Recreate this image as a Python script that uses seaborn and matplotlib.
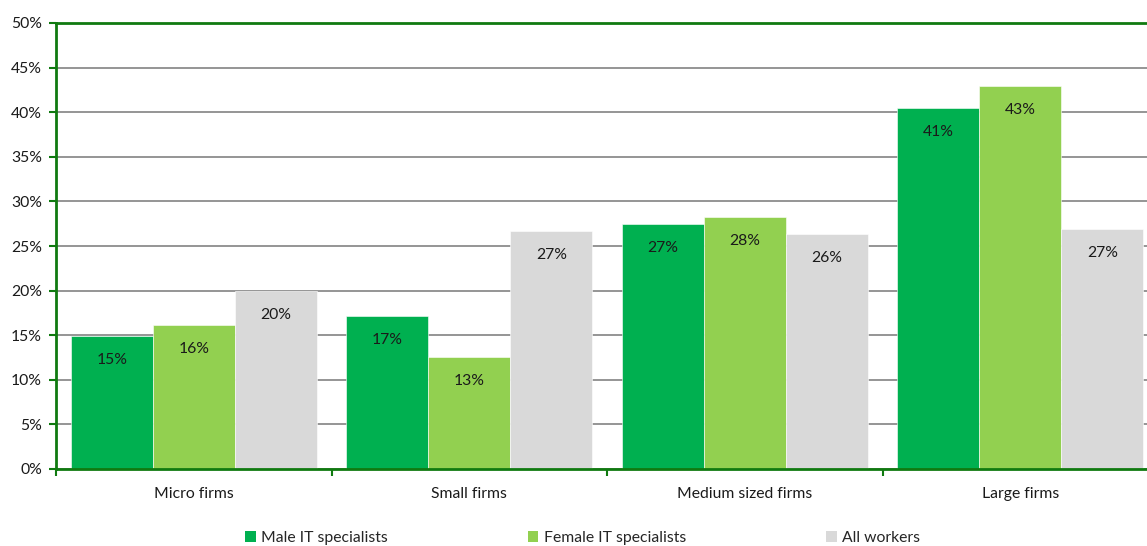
import numpy as np
import pandas as pd
import seaborn as sns
import matplotlib.pyplot as plt
from matplotlib.patches import Patch
from matplotlib.ticker import FixedLocator, PercentFormatter

# values (share of workers, %)
categories = ["Micro firms", "Small firms", "Medium sized firms", "Large firms"]
series = ["Male IT specialists", "Female IT specialists", "All workers"]
male_it = [14.9, 17.1, 27.5, 40.5]
female_it = [16.1, 12.6, 28.3, 42.9]
all_workers = [20.0, 26.7, 26.4, 26.9]
bar_labels = {
    "Male IT specialists": ["15%", "17%", "27%", "41%"],
    "Female IT specialists": ["16%", "13%", "28%", "43%"],
    "All workers": ["20%", "27%", "26%", "27%"],
}
colors = ["#00B050", "#92D050", "#D9D9D9"]
green_line = "#107A10"
FS = 11.3

df = pd.DataFrame({
    "firm": categories * 3,
    "series": [s for s in series for _ in categories],
    "share": male_it + female_it + all_workers,
})

sns.set_theme(style="white")
plt.rcParams["font.family"] = ["Lato", "DejaVu Sans"]

fig = plt.figure(figsize=(11.47, 5.46), dpi=100)
ax = fig.add_axes([56 / 1147, 77 / 546, 1102 / 1147, 446 / 546])

sns.barplot(data=df, x="firm", y="share", hue="series", order=categories,
            hue_order=series, palette=colors, width=0.893, gap=0,
            saturation=1, edgecolor="white", linewidth=0.4, ax=ax, legend=False)

# data labels inside the bars, just below the top
for container, s in zip(ax.containers, series):
    for bar, lab in zip(container, bar_labels[s]):
        ax.annotate(lab, (bar.get_x() + bar.get_width() / 2, bar.get_height()),
                    xytext=(0, -24), textcoords="offset pixels",
                    ha="center", va="center", fontsize=FS, color="#1a1a1a")

ax.set_ylim(0, 50)
ax.set_xlim(-0.5, 3.5)
ax.yaxis.set_major_locator(FixedLocator(np.arange(0, 51, 5)))
ax.yaxis.set_major_formatter(PercentFormatter(decimals=0))
ax.yaxis.grid(True, color="#8C8C8C", linewidth=1.3)
ax.set_axisbelow(True)

ax.set_xlabel("")
ax.set_ylabel("")
ax.tick_params(axis="x", which="major", length=0, pad=13, labelsize=FS, labelcolor="#1a1a1a")
ax.xaxis.set_minor_locator(FixedLocator([-0.5, 0.5, 1.5, 2.5, 3.5]))
ax.tick_params(axis="x", which="minor", direction="out", length=5, width=1.5,
               color=green_line, bottom=True)
ax.tick_params(axis="y", direction="out", length=5, width=1.5, color=green_line,
               left=True, pad=5, labelsize=FS, labelcolor="#1a1a1a")

for side in ["left", "bottom", "top"]:
    ax.spines[side].set_color(green_line)
    ax.spines[side].set_linewidth(2)
ax.spines["right"].set_visible(False)

handles = [Patch(facecolor=c, edgecolor="none", label=s) for c, s in zip(colors, series)]
fig.legend(handles=handles, loc="center", bbox_to_anchor=(0.5 + 9 / 1147, 1 - 538 / 546),
           ncol=3, frameon=False, fontsize=FS, handlelength=0.7, handleheight=0.7,
           handletextpad=0.35, columnspacing=8.9)

plt.savefig("out.png", dpi=100)
plt.close()
